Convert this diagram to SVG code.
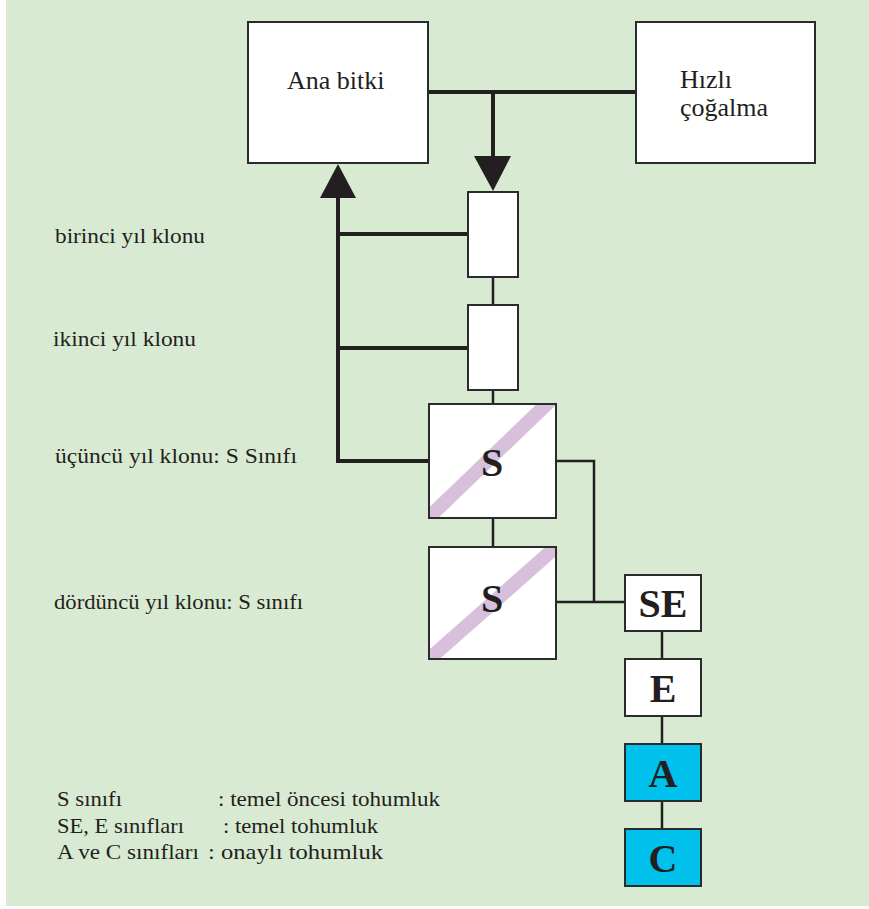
<svg xmlns="http://www.w3.org/2000/svg" width="869" height="909" viewBox="0 0 869 909">
<defs>
<style>
.bg{fill:#d9ead3}
.box{fill:#ffffff;stroke:#2b2b2b;stroke-width:2}
.cyan{fill:#00c1ec;stroke:#2b2b2b;stroke-width:2}
.thick{stroke:#231f20;stroke-width:4;fill:none}
.thin{stroke:#231f20;stroke-width:2.5;fill:none}
.lbl{font-family:"Liberation Serif","Times New Roman",serif;font-size:22px;fill:#231f20}
.big{font-family:"Liberation Serif","Times New Roman",serif;font-size:26px;fill:#231f20}
.leg{font-family:"Liberation Serif","Times New Roman",serif;font-size:21px;fill:#231f20}
.cls{font-family:"Liberation Serif","Times New Roman",serif;font-size:40px;font-weight:bold;fill:#231f20;text-anchor:middle}
.stripe{stroke:#d8bfdc;stroke-width:14}
.arr{fill:#231f20}
</style>
<clipPath id="c1"><rect x="429" y="404" width="127" height="114"/></clipPath>
<clipPath id="c2"><rect x="429" y="547" width="127" height="112"/></clipPath>
</defs>
<rect class="bg" x="6" y="0" width="863" height="906"/>

<g id="connectors">
<line class="thick" x1="428" y1="92" x2="636" y2="92"/>
<line class="thick" x1="493" y1="92" x2="493" y2="160"/>
<polygon class="arr" points="474,156 511,156 493,191"/>
<polyline class="thick" points="428,461 338,461 338,195"/>
<polygon class="arr" points="320,198 356,198 338,164"/>
<line class="thick" x1="338" y1="234" x2="468" y2="234"/>
<line class="thick" x1="338" y1="348" x2="468" y2="348"/>
<line class="thin" x1="493" y1="277" x2="493" y2="305"/>
<line class="thin" x1="493" y1="390" x2="493" y2="404"/>
<line class="thin" x1="493" y1="518" x2="493" y2="547"/>
<polyline class="thin" points="556,461 594,461 594,602"/>
<line class="thin" x1="556" y1="602" x2="625" y2="602"/>
<line class="thin" x1="662" y1="631" x2="662" y2="659"/>
<line class="thin" x1="662" y1="716" x2="662" y2="744"/>
<line class="thin" x1="662" y1="801" x2="662" y2="829"/>
</g>

<g id="ana-bitki">
<rect class="box" x="248" y="22" width="180" height="141"/>
<text class="big" x="287" y="89">Ana bitki</text>
</g>
<g id="hizli-cogalma">
<rect class="box" x="636" y="22" width="179" height="141"/>
<text class="big" x="680" y="88">Hızlı</text>
<text class="big" x="680" y="116">çoğalma</text>
</g>
<g id="birinci">
<rect class="box" x="468" y="192" width="50" height="85"/>
<text class="lbl" x="55" y="243" textLength="150" lengthAdjust="spacingAndGlyphs">birinci yıl klonu</text>
</g>
<g id="ikinci">
<rect class="box" x="468" y="305" width="50" height="85"/>
<text class="lbl" x="53" y="346" textLength="143" lengthAdjust="spacingAndGlyphs">ikinci yıl klonu</text>
</g>
<g id="ucuncu">
<rect class="box" x="429" y="404" width="127" height="114"/>
<line class="stripe" clip-path="url(#c1)" x1="424" y1="522" x2="551" y2="400"/>
<rect x="429" y="404" width="127" height="114" fill="none" stroke="#2b2b2b" stroke-width="2"/>
<text class="cls" x="492" y="476">S</text>
<text class="lbl" x="55" y="463" textLength="242" lengthAdjust="spacingAndGlyphs">üçüncü yıl klonu: S Sınıfı</text>
</g>
<g id="dorduncu">
<rect class="box" x="429" y="547" width="127" height="112"/>
<line class="stripe" clip-path="url(#c2)" x1="429" y1="659" x2="556" y2="547"/>
<rect x="429" y="547" width="127" height="112" fill="none" stroke="#2b2b2b" stroke-width="2"/>
<text class="cls" x="492" y="612">S</text>
<text class="lbl" x="54" y="609" textLength="249" lengthAdjust="spacingAndGlyphs">dördüncü yıl klonu: S sınıfı</text>
</g>
<g id="se">
<rect class="box" x="625" y="575" width="76" height="56"/>
<text class="cls" x="663" y="617">SE</text>
</g>
<g id="e">
<rect class="box" x="625" y="659" width="76" height="57"/>
<text class="cls" x="663" y="702">E</text>
</g>
<g id="a">
<rect class="cyan" x="625" y="744" width="76" height="57"/>
<text class="cls" x="663" y="787">A</text>
</g>
<g id="c">
<rect class="cyan" x="625" y="829" width="76" height="57"/>
<text class="cls" x="663" y="872">C</text>
</g>
<g id="legend">
<text class="leg" x="57" y="806" textLength="65" lengthAdjust="spacingAndGlyphs">S sınıfı</text>
<text class="leg" x="218" y="806" textLength="222" lengthAdjust="spacingAndGlyphs">: temel öncesi tohumluk</text>
<text class="leg" x="57" y="833" textLength="127" lengthAdjust="spacingAndGlyphs">SE, E sınıfları</text>
<text class="leg" x="223" y="833" textLength="155" lengthAdjust="spacingAndGlyphs">: temel tohumluk</text>
<text class="leg" x="57" y="859" textLength="142" lengthAdjust="spacingAndGlyphs">A ve C sınıfları</text>
<text class="leg" x="208" y="859" textLength="175" lengthAdjust="spacingAndGlyphs">: onaylı tohumluk</text>
</g>
</svg>
